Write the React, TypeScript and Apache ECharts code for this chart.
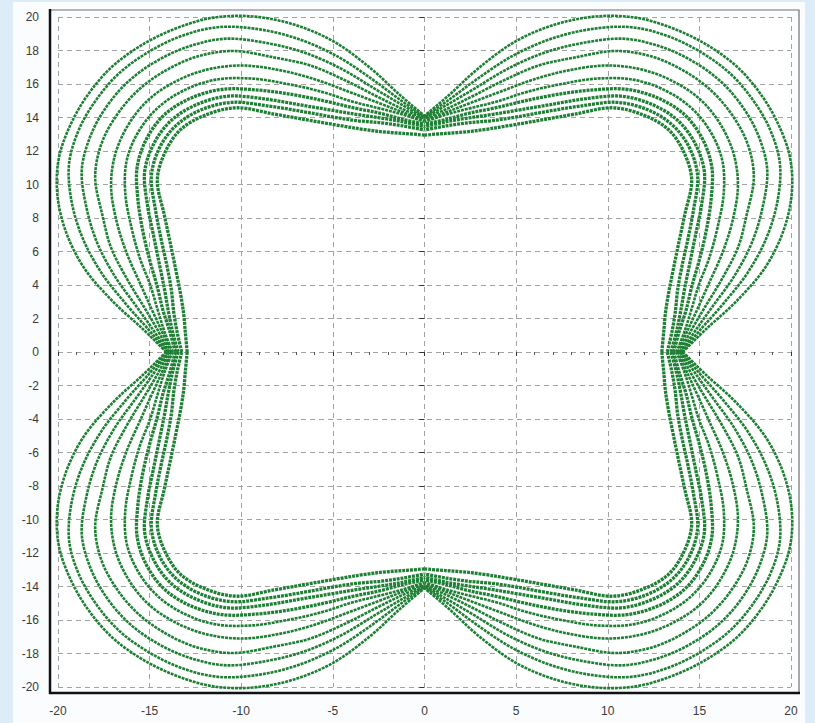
import React, { useEffect, useRef } from "react";
import * as echarts from "echarts";

// Polar angle (degrees from the x axis) at which each ring's radius is recorded,
// over the first octant; the rings repeat by symmetry about the axes and the diagonal.
const angles = [0, 5, 10, 15, 20, 25, 30, 35, 40, 45];

// Radius of each ring at the angles above, innermost ring first.
const ring0 = [12.95, 13.1, 13.35, 13.8, 14.45, 15.3, 16.4, 17.8, 18.5, 18.8];
const ring1 = [13.25, 13.55, 13.9, 14.3, 14.95, 15.85, 16.95, 18.2, 18.9, 19.15];
const ring2 = [13.45, 13.8, 14.2, 14.7, 15.4, 16.3, 17.45, 18.65, 19.3, 19.55];
const ring3 = [13.6, 13.95, 14.5, 15.1, 15.95, 16.95, 18.05, 19.15, 19.8, 20.05];
const ring4 = [13.75, 14.25, 14.8, 15.5, 16.55, 17.65, 18.85, 19.85, 20.4, 20.6];
const ring5 = [13.85, 14.4, 15.15, 16.1, 17.3, 18.55, 19.75, 20.6, 21.1, 21.3];
const ring6 = [13.95, 14.6, 15.55, 16.8, 18.2, 19.4, 20.75, 21.55, 21.95, 22.1];
const ring7 = [14.0, 14.85, 16.0, 17.5, 19.0, 20.35, 21.6, 22.3, 22.7, 22.85];
const ring8 = [14.05, 15.1, 16.55, 18.25, 19.85, 21.25, 22.4, 23.05, 23.4, 23.55];
const ring9 = [14.1, 15.4, 17.25, 19.2, 20.8, 22.1, 23.05, 23.6, 23.95, 24.1];

const rings = [ring0, ring1, ring2, ring3, ring4, ring5, ring6, ring7, ring8, ring9];

const xTicks = { min: -20, max: 20, step: 5 };
const yTicks = { min: -20, max: 20, step: 2 };

const GREEN = "#1f8035";

// One quarter of a ring, running from the x axis round to the y axis.
function quarterArc(k: number): number[][] {
  const radii = rings[k];
  const octant = angles.map((deg, i) => {
    const t = (deg * Math.PI) / 180;
    return [radii[i] * Math.cos(t), radii[i] * Math.sin(t)];
  });
  const mirrored = octant
    .slice(0, -1)
    .reverse()
    .map(([x, y]) => [y, x]);
  return octant.concat(mirrored);
}

const quadrantSigns = [
  [1, 1],
  [-1, 1],
  [-1, -1],
  [1, -1],
];

// Every quarter ring as its own piece, so the rings meet the axes in a cusp.
const arcs: { ring: number; pts: number[][] }[] = [];
rings.forEach((_, k) => {
  const arc = quarterArc(k);
  quadrantSigns.forEach(([sx, sy]) => {
    arcs.push({ ring: k, pts: arc.map(([x, y]) => [sx * x, sy * y]) });
  });
});

// Catmull-Rom spline through pixel points, written as cubic Bezier segments.
function splinePath(px: number[][]): string {
  let d = `M${px[0][0].toFixed(2)},${px[0][1].toFixed(2)}`;
  for (let i = 0; i < px.length - 1; i++) {
    const p0 = px[i - 1] || px[i];
    const p1 = px[i];
    const p2 = px[i + 1];
    const p3 = px[i + 2] || px[i + 1];
    const c1x = p1[0] + (p2[0] - p0[0]) / 6;
    const c1y = p1[1] + (p2[1] - p0[1]) / 6;
    const c2x = p2[0] - (p3[0] - p1[0]) / 6;
    const c2y = p2[1] - (p3[1] - p1[1]) / 6;
    d += ` C${c1x.toFixed(2)},${c1y.toFixed(2)} ${c2x.toFixed(2)},${c2y.toFixed(2)} ${p2[0].toFixed(2)},${p2[1].toFixed(2)}`;
  }
  return d;
}

export default function App() {
  const ref = useRef<HTMLDivElement>(null);

  useEffect(() => {
    if (!ref.current) return;
    const chart = echarts.init(ref.current, undefined, { renderer: "svg" });
    const labelStyle = {
      color: "#3a3a3a",
      fontSize: 12,
      fontFamily: "'Liberation Sans', Arial, sans-serif",
    };
    const gridLine = {
      show: true,
      lineStyle: { color: "#a3a3a3", width: 1, type: [5, 4] as any },
    };
    chart.setOption({
      animation: false,
      backgroundColor: "transparent",
      grid: {
        left: 58,
        right: 24,
        top: 17,
        bottom: 36,
        show: true,
        backgroundColor: "#ffffff",
        borderWidth: 0,
      },
      xAxis: {
        type: "value",
        min: xTicks.min,
        max: xTicks.max,
        interval: xTicks.step,
        offset: 6,
        axisLine: { show: false },
        axisTick: { show: true, length: 4, lineStyle: { color: "#333" } },
        minorTick: { show: true, splitNumber: 5, length: 3, lineStyle: { color: "#555" } },
        axisLabel: { ...labelStyle, margin: 12 },
        splitLine: gridLine,
      },
      yAxis: {
        type: "value",
        min: yTicks.min,
        max: yTicks.max,
        interval: yTicks.step,
        offset: 8,
        axisLine: { show: false },
        axisTick: { show: true, length: 5, lineStyle: { color: "#333" } },
        axisLabel: { ...labelStyle, margin: 11 },
        splitLine: gridLine,
      },
      graphic: [
        {
          type: "rect",
          z: 10,
          silent: true,
          shape: { x: 50, y: 10, width: 749, height: 683 },
          style: { fill: "none", stroke: "#707070", lineWidth: 1.2 },
        },
        {
          type: "line",
          z: 11,
          silent: true,
          shape: { x1: 50, y1: 9, x2: 50, y2: 694 },
          style: { stroke: "#111", lineWidth: 2.5 },
        },
        {
          type: "line",
          z: 11,
          silent: true,
          shape: { x1: 49, y1: 693, x2: 800, y2: 693 },
          style: { stroke: "#111", lineWidth: 2.5 },
        },
      ],
      series: [
        {
          type: "custom",
          coordinateSystem: "cartesian2d",
          silent: true,
          clip: false,
          z: 3,
          data: arcs.map(() => [0, 0]),
          renderItem: (params: any, api: any) => {
            const arc = arcs[params.dataIndex];
            const px = arc.pts.map((p) => api.coord(p));
            return {
              type: "path",
              shape: { pathData: splinePath(px) },
              style: {
                fill: "none",
                stroke: GREEN,
                lineWidth: arc.ring < 4 ? 3.3 : 2.6,
                lineDash: [3, 0.9],
              },
            };
          },
        },
      ],
    });
    return () => chart.dispose();
  }, []);

  return (
    <div
      style={{
        position: "fixed",
        left: 0,
        top: 0,
        width: 815,
        height: 723,
        background: "#dcedf9",
      }}
    >
      <div
        style={{
          position: "absolute",
          left: 13,
          top: 2,
          width: 792,
          height: 721,
          background: "#fafcfe",
        }}
      />
      <div
        ref={ref}
        style={{ position: "absolute", left: 0, top: 0, width: 815, height: 723 }}
      />
    </div>
  );
}
